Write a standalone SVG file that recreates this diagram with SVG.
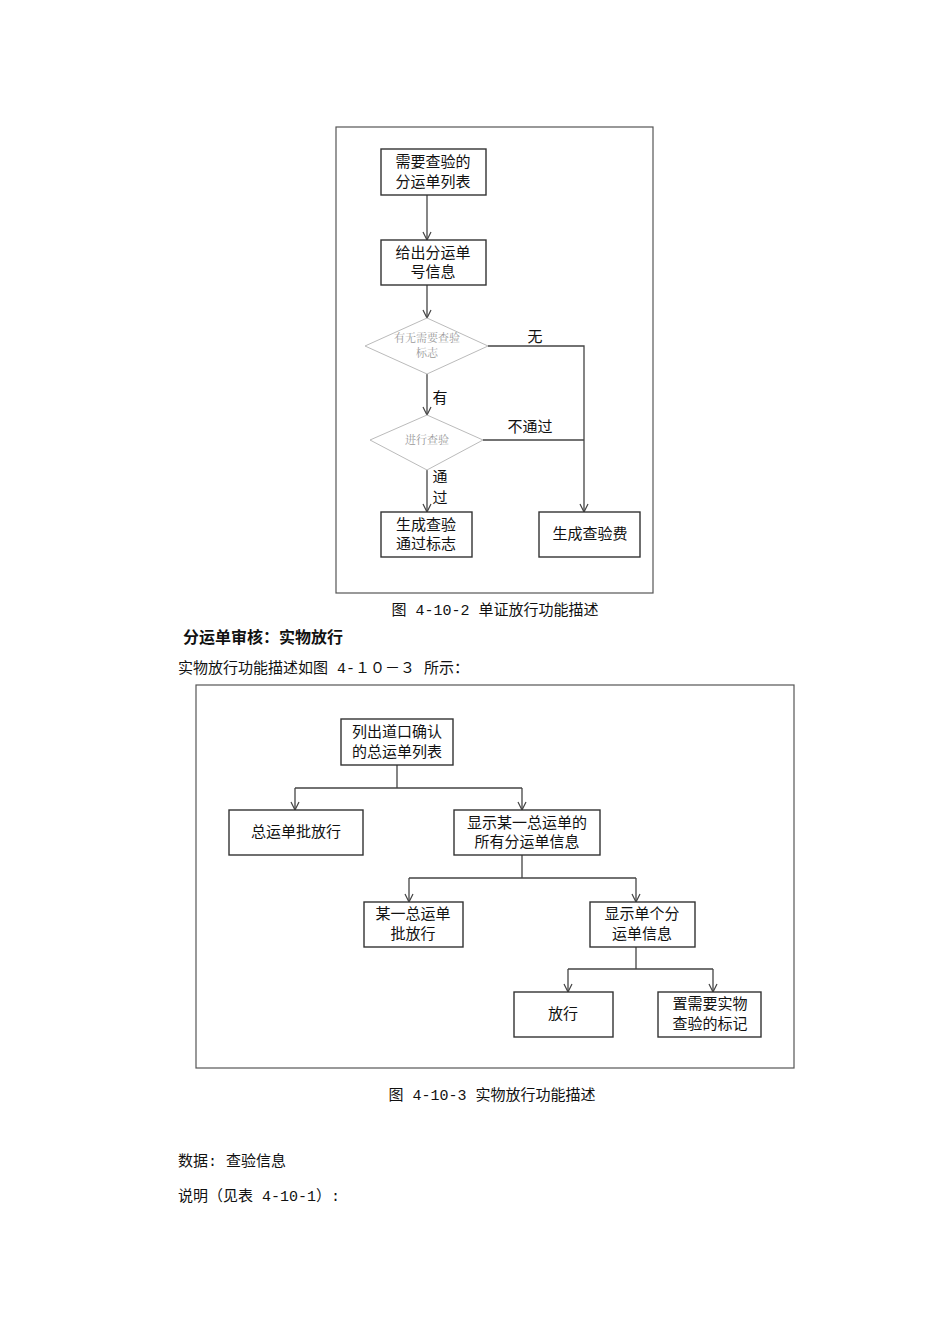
<svg xmlns="http://www.w3.org/2000/svg" width="950" height="1344" viewBox="0 0 950 1344">
<style>
.frame{fill:#fff;stroke:#555;stroke-width:1.2}
.box{fill:#fff;stroke:#333;stroke-width:1.4}
.dia{fill:#fff;stroke:#bbb;stroke-width:1}
.ln{fill:none;stroke:#444;stroke-width:1.3}
.t{font-family:"Noto Sans CJK SC",sans-serif;font-size:15px;fill:#111;text-anchor:middle}
.td{font-family:"Noto Serif CJK SC","Noto Sans CJK SC",serif;font-size:11px;fill:#999;text-anchor:middle}
.p{font-family:"Liberation Mono","Noto Sans CJK SC",monospace;font-size:15px;fill:#111}
</style>
<defs><marker id="a" viewBox="0 0 10 10" refX="9" refY="5" markerWidth="10" markerHeight="10" orient="auto" markerUnits="userSpaceOnUse"><path d="M1,1 L9,5 L1,9" fill="none" stroke="#444" stroke-width="1.2"/></marker></defs>
<rect width="950" height="1344" fill="#fff"/>
<rect class="frame" x="336" y="127" width="317" height="466"/>
<g id="connectors1">
<path class="ln" d="M427,195 V240" marker-end="url(#a)"/>
<path class="ln" d="M427,285 V318" marker-end="url(#a)"/>
<path class="ln" d="M427,374 V415" marker-end="url(#a)"/>
<path class="ln" d="M427,470 V512" marker-end="url(#a)"/>
<path class="ln" d="M488,346 H584 V512" marker-end="url(#a)"/>
<path class="ln" d="M483,440 H584"/>
<text class="t" x="535" y="342">无</text>
<text class="t" x="440" y="403">有</text>
<text class="t" x="530" y="432">不通过</text>
<text class="t" x="440" y="482" font-size="14">通</text>
<text class="t" x="440" y="503" font-size="14">过</text>
</g>
<g id="n1"><rect class="box" x="381" y="149" width="105" height="46"/><text class="t" x="433" y="167">需要查验的</text><text class="t" x="433" y="187">分运单列表</text></g>
<g id="n2"><rect class="box" x="381" y="240" width="105" height="45"/><text class="t" x="433" y="258">给出分运单</text><text class="t" x="433" y="277">号信息</text></g>
<g id="n3"><polygon class="dia" points="427,318 488,346 427,374 365,346"/><text class="td" x="427" y="342">有无需要查验</text><text class="td" x="427" y="357">标志</text></g>
<g id="n4"><polygon class="dia" points="427,415 483,440 427,470 370,440"/><text class="td" x="427" y="444">进行查验</text></g>
<g id="n5"><rect class="box" x="381" y="512" width="91" height="45"/><text class="t" x="426" y="530">生成查验</text><text class="t" x="426" y="549">通过标志</text></g>
<g id="n6"><rect class="box" x="539" y="512" width="101" height="45"/><text class="t" x="590" y="539">生成查验费</text></g>
<text class="p" x="495" y="615" text-anchor="middle" font-size="14">图 4-10-2 单证放行功能描述</text>
<text x="183" y="643" font-weight="bold" font-size="16" font-family="Noto Sans CJK SC,sans-serif" fill="#111">分运单审核：实物放行</text>
<text class="p" x="178" y="673" font-size="14">实物放行功能描述如图 4-１０－３ 所示：</text>
<rect class="frame" x="196" y="685" width="598" height="383"/>
<g id="connectors2">
<path class="ln" d="M397,765 V788 M295,788 H522"/>
<path class="ln" d="M295,788 V810" marker-end="url(#a)"/>
<path class="ln" d="M522,788 V810" marker-end="url(#a)"/>
<path class="ln" d="M522,855 V878 M409,878 H636"/>
<path class="ln" d="M409,878 V902" marker-end="url(#a)"/>
<path class="ln" d="M636,878 V902" marker-end="url(#a)"/>
<path class="ln" d="M636,947 V969 M568,969 H713"/>
<path class="ln" d="M568,969 V992" marker-end="url(#a)"/>
<path class="ln" d="M713,969 V992" marker-end="url(#a)"/>
</g>
<g id="m1"><rect class="box" x="341" y="719" width="112" height="46"/><text class="t" x="397" y="737">列出道口确认</text><text class="t" x="397" y="757">的总运单列表</text></g>
<g id="m2"><rect class="box" x="229" y="810" width="134" height="45"/><text class="t" x="296" y="837">总运单批放行</text></g>
<g id="m3"><rect class="box" x="454" y="810" width="146" height="45"/><text class="t" x="527" y="828">显示某一总运单的</text><text class="t" x="527" y="847">所有分运单信息</text></g>
<g id="m4"><rect class="box" x="364" y="902" width="99" height="45"/><text class="t" x="413" y="919">某一总运单</text><text class="t" x="413" y="939">批放行</text></g>
<g id="m5"><rect class="box" x="590" y="902" width="105" height="45"/><text class="t" x="642" y="919">显示单个分</text><text class="t" x="642" y="939">运单信息</text></g>
<g id="m6"><rect class="box" x="514" y="992" width="99" height="45"/><text class="t" x="563" y="1019">放行</text></g>
<g id="m7"><rect class="box" x="658" y="992" width="103" height="45"/><text class="t" x="710" y="1009">置需要实物</text><text class="t" x="710" y="1029">查验的标记</text></g>
<text class="p" x="492" y="1100" text-anchor="middle" font-size="14">图 4-10-3 实物放行功能描述</text>
<text class="p" x="178" y="1166" font-size="16">数据: 查验信息</text>
<text class="p" x="178" y="1201" font-size="16">说明（见表 4-10-1）:</text>
</svg>
